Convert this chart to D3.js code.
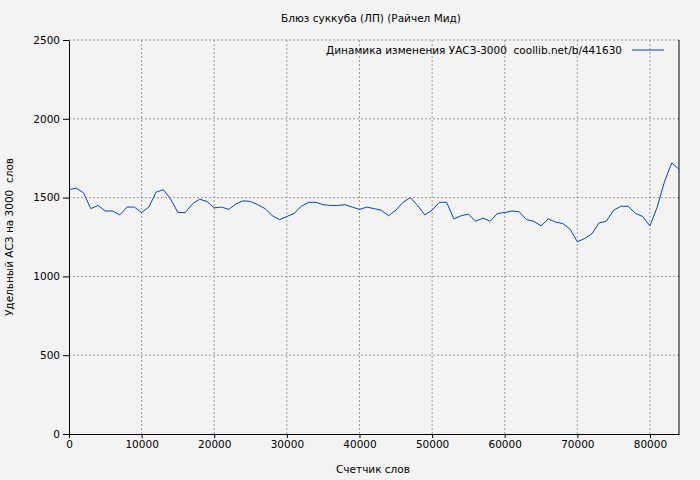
<!DOCTYPE html><html><head><meta charset="utf-8"><script src="https://d3js.org/d3.v7.min.js"></script>
<style>body{margin:0;background:#f3f3f3}svg{font-family:"DejaVu Sans",sans-serif}</style></head><body><svg width="700" height="480"></svg><script>
const words=[0,1000,2000,3000,4000,5000,6000,7000,8000,9000,10000,11000,12000,13000,14000,15000,16000,17000,18000,19000,20000,21000,22000,23000,24000,25000,26000,27000,28000,29000,30000,31000,32000,33000,34000,35000,36000,37000,38000,39000,40000,41000,42000,43000,44000,45000,46000,47000,48000,49000,50000,51000,52000,53000,54000,55000,56000,57000,58000,59000,60000,61000,62000,63000,64000,65000,66000,67000,68000,69000,70000,71000,72000,73000,74000,75000,76000,77000,78000,79000,80000,81000,82000,83000,84000];
const values=[1550,1560,1530,1430,1450,1415,1415,1390,1440,1440,1405,1440,1535,1550,1490,1405,1405,1460,1490,1475,1435,1440,1425,1460,1480,1475,1455,1430,1385,1360,1380,1400,1445,1470,1470,1455,1450,1450,1455,1440,1425,1440,1430,1420,1385,1420,1470,1500,1450,1390,1420,1470,1470,1365,1385,1395,1350,1370,1350,1400,1405,1415,1410,1360,1350,1320,1365,1345,1335,1300,1220,1240,1270,1340,1350,1420,1445,1445,1400,1380,1320,1440,1600,1720,1680];
const xTicks=[0,10000,20000,30000,40000,50000,60000,70000,80000];
const yTicks=[0,500,1000,1500,2000,2500];
const svg=d3.select("svg");
const L=69,R=679,T=40,B=434,FS=10.5;
const x=d3.scaleLinear().domain([0,84000]).range([L,R]);
const y=d3.scaleLinear().domain([0,2500]).range([B,T]);
const g=svg.append("g");
xTicks.slice(1).forEach(t=>g.append("line").attr("x1",x(t)).attr("x2",x(t)).attr("y1",T).attr("y2",B).attr("stroke","#999").attr("stroke-dasharray","2,2"));
yTicks.slice(1).forEach(t=>g.append("line").attr("x1",L).attr("x2",R).attr("y1",y(t)).attr("y2",y(t)).attr("stroke","#999").attr("stroke-dasharray","2,2"));
svg.append("g").attr("transform",`translate(0,${B})`).call(d3.axisBottom(x).tickValues(xTicks).tickFormat(d3.format("d")).tickSize(4).tickSizeOuter(0)).call(a=>a.selectAll("text").attr("font-size",FS).attr("fill","#000").attr("font-family","DejaVu Sans"));
svg.append("g").attr("transform",`translate(${L},0)`).call(d3.axisLeft(y).tickValues(yTicks).tickFormat(d3.format("d")).tickSize(6).tickSizeOuter(0)).call(a=>a.selectAll("text").attr("font-size",FS).attr("fill","#000").attr("font-family","DejaVu Sans"));
svg.append("line").attr("x1",R).attr("x2",R).attr("y1",T).attr("y2",B).attr("stroke","#000");
svg.append("path").datum(words.map((w,i)=>[w,values[i]])).attr("fill","none").attr("stroke","#0047bb").attr("stroke-width",1)
 .attr("d",d3.line().x(d=>x(d[0])).y(d=>y(d[1])));
svg.append("text").attr("x",371).attr("y",22).attr("text-anchor","middle").attr("font-size",FS).text("Блюз суккуба (ЛП) (Райчел Мид)");
svg.append("text").attr("x",622).attr("y",54).attr("text-anchor","end").attr("font-size",FS).attr("xml:space","preserve").style("white-space","pre").text("Динамика изменения УАСЗ-3000  coollib.net/b/441630");
svg.append("line").attr("x1",632).attr("x2",664).attr("y1",50).attr("y2",50).attr("stroke","#0047bb");
svg.append("text").attr("x",373).attr("y",473).attr("text-anchor","middle").attr("font-size",FS).text("Счетчик слов");
svg.append("text").attr("transform","translate(13,237) rotate(-90)").attr("text-anchor","middle").attr("font-size",FS).attr("xml:space","preserve").style("white-space","pre").text("Удельный АСЗ на 3000  слов");
</script></body></html>
